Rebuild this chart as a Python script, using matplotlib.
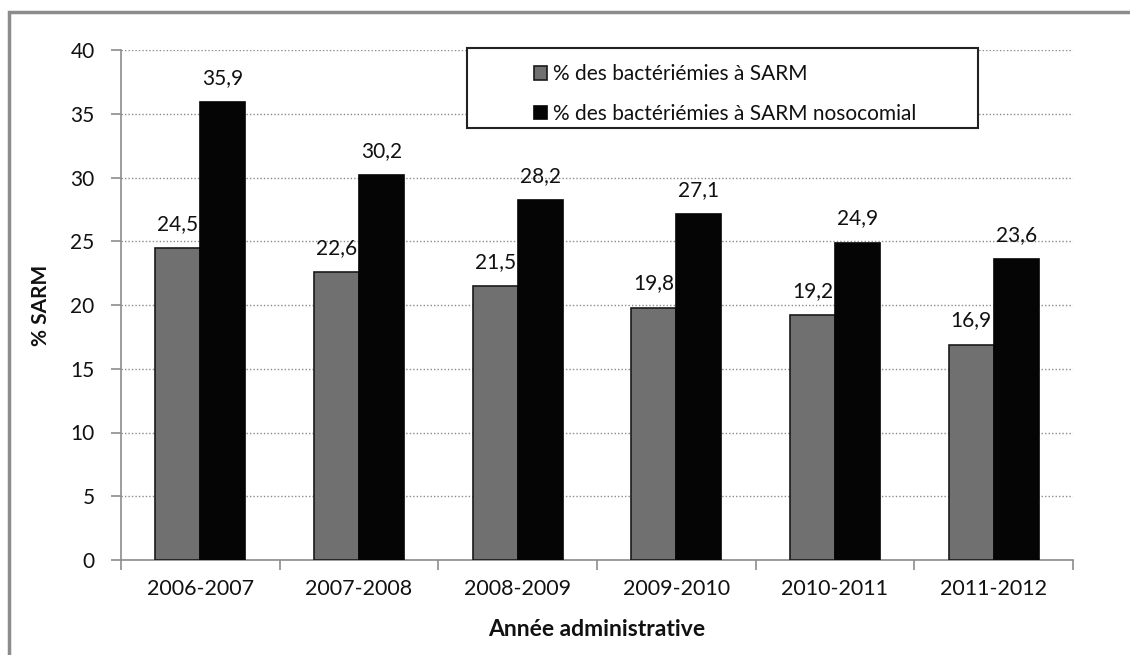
import matplotlib
matplotlib.use("Agg")
import matplotlib.pyplot as plt
from matplotlib.patches import Rectangle
import numpy as np

years = ["2006-2007", "2007-2008", "2008-2009", "2009-2010", "2010-2011", "2011-2012"]
sarm = [24.5, 22.6, 21.5, 19.8, 19.2, 16.9]
sarm_noso = [35.9, 30.2, 28.2, 27.1, 24.9, 23.6]
series_names = ["% des bactériémies à SARM", "% des bactériémies à SARM nosocomial"]
y_ticks = [0, 5, 10, 15, 20, 25, 30, 35, 40]

plt.rcParams["font.family"] = ["Lato", "DejaVu Sans"]
txt_color = "#111111"
fs = 15

fig = plt.figure(figsize=(11.3, 6.55), dpi=100)
fig.patch.set_facecolor("white")

# outer chart frame (runs off the right and bottom edges)
fig.patches.append(Rectangle((9 / 1130, -0.05), 1.2, 1 - 12 / 655 + 0.05,
                             transform=fig.transFigure, fill=False,
                             edgecolor="#8c8c8c", lw=2.5, zorder=0))

ax = fig.add_axes([121 / 1130, 1 - 560 / 655, (1073 - 121) / 1130, (560 - 50) / 655])

x = np.arange(len(years))
w = 0.283
ax.bar(x - w / 2, sarm, w, color="#707070", edgecolor="#1a1a1a", lw=1.2, zorder=3,
       label=series_names[0])
ax.bar(x + w / 2, sarm_noso, w, color="#050505", edgecolor="#050505", lw=1.2, zorder=3,
       label=series_names[1])

for xs, vals in ((x - w / 2, sarm), (x + w / 2, sarm_noso)):
    for xi, v in zip(xs, vals):
        ax.text(xi, v + 1.1, f"{v:.1f}".replace(".", ","), ha="center", va="bottom",
                fontsize=fs, color=txt_color, zorder=4)

ax.set_xlim(-0.5, len(years) - 0.5)
ax.set_ylim(0, 40)
ax.set_yticks(y_ticks)
ax.set_yticklabels([str(t) for t in y_ticks], fontsize=fs, color=txt_color)
ax.set_xticks(x)
ax.set_xticklabels(years, fontsize=fs + 0.5, color=txt_color)
ax.set_xticks(np.arange(len(years) + 1) - 0.5, minor=True)
ax.tick_params(axis="x", which="major", length=0, pad=14)
ax.tick_params(axis="x", which="minor", length=7, color="#8c8c8c", width=1.2)
ax.tick_params(axis="y", length=7, color="#8c8c8c", width=1.2, pad=12)

ax.yaxis.grid(True, linestyle=(0, (1, 1.5)), color="#8c8c8c", lw=1.0, zorder=0)
ax.set_axisbelow(True)
for s in ("top", "right"):
    ax.spines[s].set_visible(False)
for s in ("left", "bottom"):
    ax.spines[s].set_color("#8c8c8c")
    ax.spines[s].set_linewidth(1.2)

ax.set_ylabel("% SARM", fontsize=fs, fontweight="bold", color=txt_color, labelpad=14)
ax.set_xlabel("Année administrative", fontsize=fs + 1.5, fontweight="bold", color=txt_color,
              labelpad=14)

# legend box
x0 = (467 - 121) / 952
x1 = (978 - 121) / 952
y0 = (560 - 128) / 510
y1 = (560 - 48) / 510
ax.add_patch(Rectangle((x0, y0), x1 - x0, y1 - y0, transform=ax.transAxes,
                       facecolor="white", edgecolor="#222222", lw=1.5, zorder=5,
                       clip_on=False))
leg = ax.legend(loc="upper left", bbox_to_anchor=((528 - 121) / 952, (560 - 58) / 510),
                frameon=False, fontsize=fs, handlelength=0.6, handleheight=0.6,
                handletextpad=0.3, labelspacing=0.95, borderaxespad=0, borderpad=0.3)
leg.set_zorder(6)
for t in leg.get_texts():
    t.set_color(txt_color)

fig.savefig("out.png", dpi=100, facecolor="white")
